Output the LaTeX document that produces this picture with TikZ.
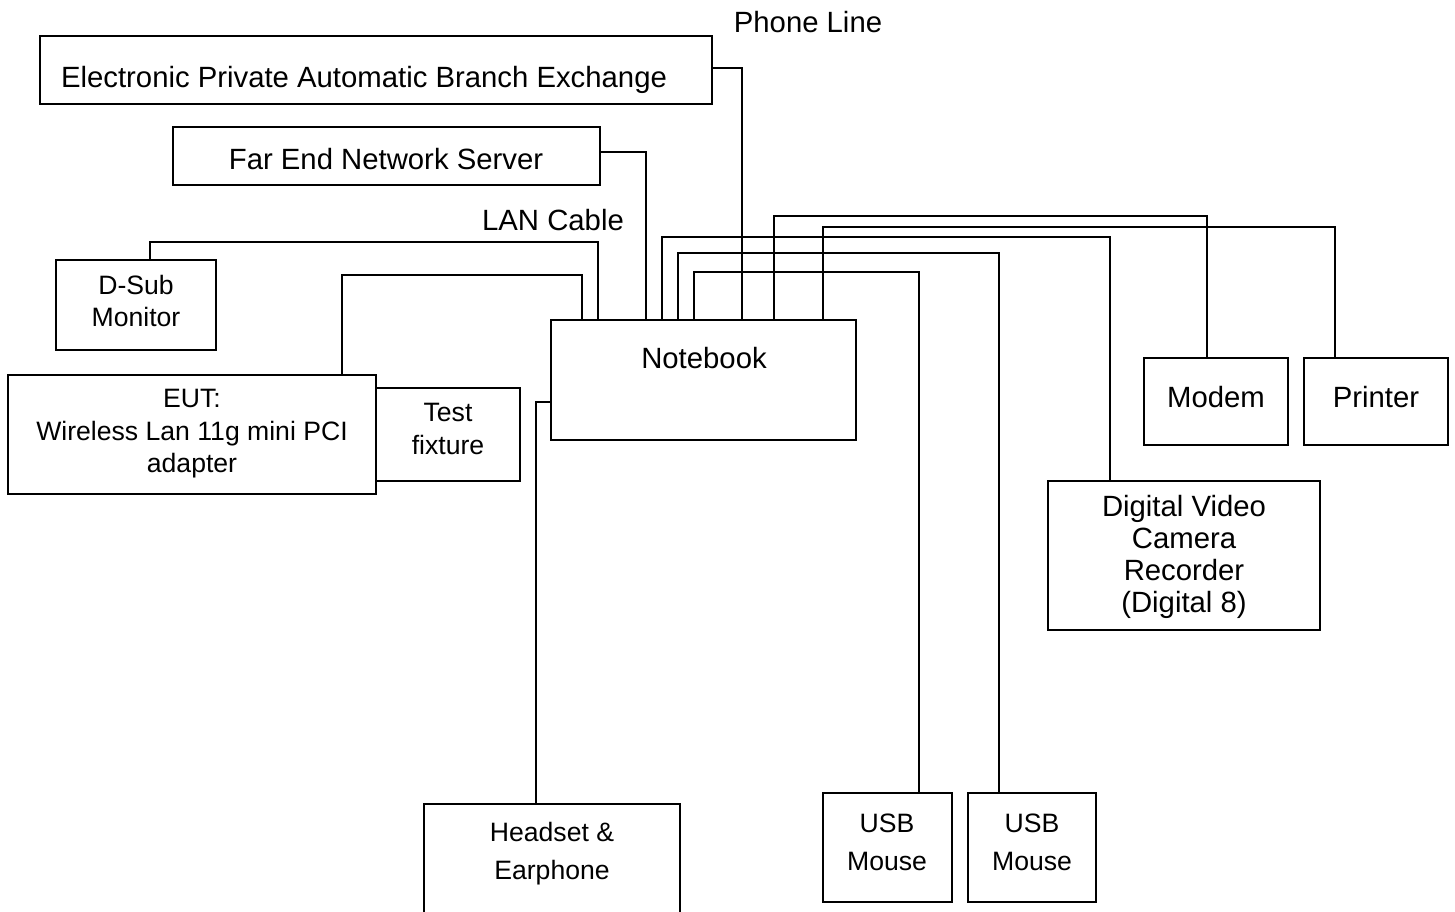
\documentclass[tikz,border=0pt]{standalone}
\usepackage{fontspec}
\setmainfont{Liberation Sans}
\usetikzlibrary{fit,calc}
\tikzset{
  box/.style={draw, line width=1pt, inner sep=0pt, rectangle},
  wire/.style={line width=1pt},
  big/.style={font=\fontsize{14.65pt}{16pt}\selectfont, align=center, inner sep=0pt},
  small/.style={font=\fontsize{13.3pt}{16.25pt}\selectfont, align=center, inner sep=0pt},
  smallwide/.style={font=\fontsize{13.3pt}{19pt}\selectfont, align=center, inner sep=0pt}
}
\begin{document}
\begin{tikzpicture}[x=0.5pt,y=-0.5pt]
\useasboundingbox (0,0) rectangle (1455,911);
\clip (0,0) rectangle (1455,911);
% boxes
\node[box, fit={(40,36) (712,104)}] (epabx) {};
\node[box, fit={(173,127) (600,185)}] (fens) {};
\node[box, fit={(56,260) (216,350)}] (dsub) {};
\node[box, fit={(8,375) (376,494)}] (eut) {};
\node[box, fit={(376,388) (520,481)}] (fix) {};
\node[box, fit={(551,320) (856,440)}] (nb) {};
\node[box, fit={(1144,358) (1288,445)}] (modem) {};
\node[box, fit={(1304,358) (1448,445)}] (printer) {};
\node[box, fit={(1048,481) (1320,630)}] (dv) {};
\node[box, fit={(424,804) (680,925)}] (head) {};
\node[box, fit={(823,793) (952,902)}] (usba) {};
\node[box, fit={(968,793) (1096,902)}] (usbb) {};
% texts
\node[big] (tepabx) at (364,80) {Electronic Private Automatic Branch Exchange};
\node[big] (tfens) at (386,159) {Far End Network Server};
\node[big] (tphone) at (808,22) {Phone Line};
\node[big] (tlan) at (553,220) {LAN Cable};
\node[small] (tdsub) at (136,301) {D-Sub\\Monitor};
\node[small] (teut) at (192,434) {EUT:\\Wireless Lan 11g mini PCI\\adapter};
\node[small] (tfix) at (448,429) {Test\\fixture};
\node[big] (tnb) at (704,358) {Notebook};
\node[big] (tmodem) at (1216,397) {Modem};
\node[big] (tprinter) at (1376,397) {Printer};
\node[big] (tdv) at (1184,557) {Digital Video\\Camera\\Recorder\\(Digital 8)};
\node[smallwide] (thead) at (552,854) {Headset \&\\Earphone};
\node[smallwide] (tusba) at (887,842) {USB\\Mouse};
\node[smallwide] (tusbb) at (1032,842) {USB\\Mouse};
% connectors
\draw[wire] ($(epabx.north east)+(0,33)$) -| ($(nb.north west)+(192,0)$);
\draw[wire] ($(fens.north east)+(0,26)$) -| ($(nb.north west)+(96,0)$);
\draw[wire] ($(dsub.north west)+(95,0)$) -- ++(0,-17) -| ($(nb.north west)+(48,0)$);
\draw[wire] ($(eut.north west)+(335,0)$) -- ++(0,-99) -| ($(nb.north west)+(32,0)$);
\draw[wire] ($(nb.north west)+(0,83)$) -| ($(head.north west)+(113,0)$);
\draw[wire] ($(nb.north west)+(224,0)$) -- ++(0,-103) -| ($(modem.north west)+(64,0)$);
\draw[wire] ($(nb.north west)+(273,0)$) -- ++(0,-92) -| ($(printer.north west)+(32,0)$);
\draw[wire] ($(nb.north west)+(112,0)$) -- ++(0,-82) -| ($(dv.north west)+(63,0)$);
\draw[wire] ($(nb.north west)+(128,0)$) -- ++(0,-66) -| ($(usbb.north west)+(32,0)$);
\draw[wire] ($(nb.north west)+(144,0)$) -- ++(0,-47) -| ($(usba.north west)+(97,0)$);
\end{tikzpicture}
\end{document}
